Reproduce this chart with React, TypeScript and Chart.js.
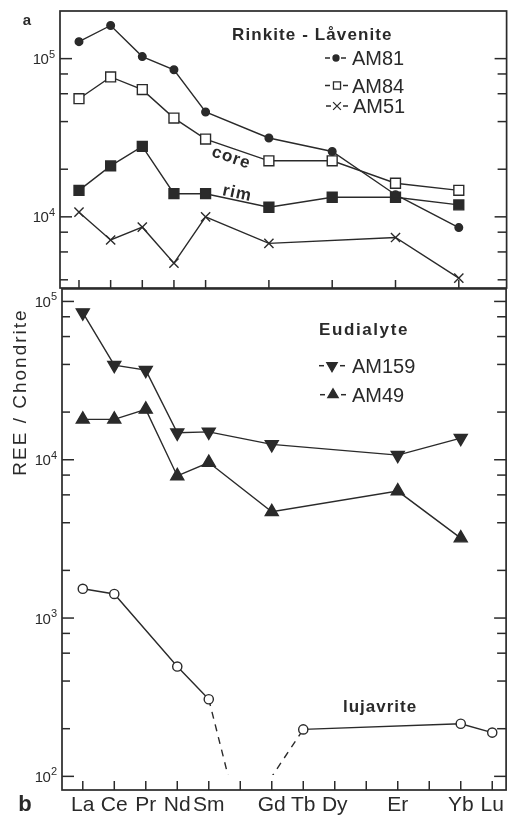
import React, { useEffect, useRef } from 'react';
import { Chart, registerables } from 'chart.js';
import { drawPoint } from 'chart.js/helpers';

Chart.register(...registerables);

// ---------- data ----------
const elements = ['La', 'Ce', 'Pr', 'Nd', 'Sm', 'Eu', 'Gd', 'Tb', 'Dy', 'Ho', 'Er', 'Tm', 'Yb', 'Lu'];
const tickLabels = ['La', 'Ce', 'Pr', 'Nd', 'Sm', '', 'Gd', 'Tb', 'Dy', '', 'Er', '', 'Yb', 'Lu'];
const yTickMultiples = [1, 2, 4, 6, 8];

// (a) Rinkite - Låvenite
const am81 = [128000, 162000, 103000, 85000, 46000, null, 31500, null, 25900, null, 13800, null, 8550, null];
const am84Core = [55800, 76600, 63700, 42100, 31000, null, 22600, null, 22600, null, 16300, null, 14700, null];
const am84Rim = [14700, 21000, 27900, 14000, 14000, null, 11500, null, 13300, null, 13300, null, 11900, null];
const am51 = [10700, 7140, 8600, 5100, 10000, null, 6800, null, null, null, 7400, null, 4100, null];

// (b) Eudialyte + lujavrite
const am159 = [85000, 39600, 36800, 14800, 15000, null, 12500, null, null, null, 10700, null, 13700, null];
const am49 = [18000, 18000, 20800, 7900, 9600, null, 4690, null, null, null, 6340, null, 3200, null];
const lujavrite = [1530, 1420, null, 494, 307, null, null, 198, null, null, null, null, 215, 189];
const lujavriteEuAnomaly = 50; // Eu, below the plotted range (dashed)

// ---------- helpers ----------
const INK = '#2a2a2a';
const SANS = '"Liberation Sans", Arial, sans-serif';
const EU = elements.indexOf('Eu');

function series(values: (number | null)[]) {
  return values
    .map((v, i) => (v == null ? null : { x: i, y: v }))
    .filter((p) => p !== null) as { x: number; y: number }[];
}

function yTickValues(min: number, max: number) {
  const out: { v: number; major: boolean }[] = [];
  for (let e = Math.floor(Math.log10(min)); e <= Math.ceil(Math.log10(max)); e++) {
    for (const m of yTickMultiples) {
      const v = m * Math.pow(10, e);
      if (v >= min * 1.0001 && v <= max / 1.0001) out.push({ v, major: m === 1 });
    }
  }
  return out;
}

function text(
  ctx: CanvasRenderingContext2D,
  str: string,
  x: number,
  y: number,
  font: string,
  align: CanvasTextAlign = 'left',
  baseline: CanvasTextBaseline = 'alphabetic',
  rotation = 0,
  spacing = 0
) {
  ctx.save();
  ctx.translate(x, y);
  ctx.rotate(rotation);
  ctx.font = font;
  (ctx as any).letterSpacing = spacing + 'px';
  ctx.textAlign = align;
  ctx.textBaseline = baseline;
  ctx.fillStyle = INK;
  ctx.fillText(str, 0, 0);
  ctx.restore();
}

function seg(ctx: CanvasRenderingContext2D, x1: number, y1: number, x2: number, y2: number) {
  ctx.beginPath();
  ctx.moveTo(x1, y1);
  ctx.lineTo(x2, y2);
  ctx.stroke();
}

const framePlugin = {
  id: 'frame',
  afterDraw(chart: any, _a: any, opts: any) {
    const { ctx, chartArea: a, scales } = chart;
    ctx.save();
    ctx.strokeStyle = INK;
    ctx.lineWidth = 1.7;
    ctx.strokeRect(a.left, a.top, a.right - a.left, a.bottom - a.top);
    ctx.lineWidth = 1.5;
    const ys = scales.y;
    for (const t of yTickValues(ys.min, ys.max)) {
      const y = ys.getPixelForValue(t.v);
      const len = t.major ? 12 : 8;
      seg(ctx, a.left, y, a.left + len, y);
      seg(ctx, a.right, y, a.right - (t.major ? 12 : 9), y);
      if (t.major) {
        const exp = String(Math.round(Math.log10(t.v)));
        ctx.font = `11px ${SANS}`;
        const we = ctx.measureText(exp).width;
        const ex = a.left - 5 - we;
        text(ctx, exp, ex, y - 1, `11px ${SANS}`, 'left', 'alphabetic');
        text(ctx, '10', ex - 0.5, y + 5.5, `15px ${SANS}`, 'right', 'alphabetic', 0, -0.5);
      }
    }
    const xs = scales.x;
    for (const i of opts.xTicks as number[]) {
      const x = xs.getPixelForValue(i);
      seg(ctx, x, a.bottom, x, a.bottom - opts.xTickLen);
    }
    ctx.restore();
  },
};

function legendEntry(
  ctx: CanvasRenderingContext2D,
  ds: any,
  label: string,
  lx: number,
  mx: number,
  rx: number,
  tx: number,
  baseline: number,
  r: number
) {
  const my = baseline - 7;
  ctx.save();
  ctx.strokeStyle = INK;
  ctx.lineWidth = 1.5;
  seg(ctx, lx, my, lx + 5, my);
  seg(ctx, rx, my, rx + 5, my);
  ctx.fillStyle = ds.pointBackgroundColor;
  ctx.strokeStyle = INK;
  ctx.lineWidth = 1.3;
  drawPoint(ctx, { pointStyle: ds.pointStyle, rotation: ds.pointRotation || 0, radius: r, borderWidth: 1.3 } as any, mx, my);
  ctx.restore();
  text(ctx, label, tx, baseline, `20px ${SANS}`);
}

function lineDs(label: string, values: (number | null)[], style: any) {
  return {
    label,
    data: series(values),
    borderColor: INK,
    borderWidth: 1.4,
    pointBorderColor: INK,
    pointBorderWidth: 1.4,
    fill: false,
    tension: 0,
    ...style,
  };
}

// ---------- top panel ----------
function topConfig(): any {
  const dsAM81 = lineDs('AM81', am81, { pointStyle: 'circle', pointRadius: 3.8, pointBackgroundColor: INK });
  const dsCore = lineDs('AM84 core', am84Core, { pointStyle: 'rect', pointRadius: 7, pointBackgroundColor: '#fff' });
  const dsRim = lineDs('AM84 rim', am84Rim, { pointStyle: 'rect', pointRadius: 7, pointBackgroundColor: INK });
  const dsAM51 = lineDs('AM51', am51, { pointStyle: 'crossRot', pointRadius: 6.5, pointBackgroundColor: INK });
  const xTicks = elements.map((_, i) => i).filter((i) => [am81, am84Core, am84Rim, am51].some((s) => s[i] != null));

  const labelsPlugin = {
    id: 'labelsTop',
    afterDraw(chart: any) {
      const { ctx, scales } = chart;
      text(ctx, 'a', 27, 25, `bold 15px ${SANS}`, 'center');
      text(ctx, 'Rinkite - Låvenite', 232, 40, `bold 17px ${SANS}`, 'left', 'alphabetic', 0, 1.1);
      legendEntry(ctx, dsAM81, 'AM81', 325, 336, 341, 352, 65, 3);
      legendEntry(ctx, dsCore, 'AM84', 325, 337, 343, 352, 92.5, 5);
      legendEntry(ctx, dsAM51, 'AM51', 326, 337, 343, 353, 113, 5.5);
      // "core" / "rim" along their segments Sm -> Gd
      const sm = elements.indexOf('Sm');
      const gd = elements.indexOf('Gd');
      const px = (i: number, v: number) => ({ x: scales.x.getPixelForValue(i), y: scales.y.getPixelForValue(v) });
      const c0 = px(sm, am84Core[sm] as number), c1 = px(gd, am84Core[gd] as number);
      const ca = Math.atan2(c1.y - c0.y, c1.x - c0.x);
      text(ctx, 'core', (c0.x + c1.x) / 2 - 6, (c0.y + c1.y) / 2 + 8, `bold 17px ${SANS}`, 'center', 'middle', ca, 1);
      const r0 = px(sm, am84Rim[sm] as number), r1 = px(gd, am84Rim[gd] as number);
      const ra = Math.atan2(r1.y - r0.y, r1.x - r0.x);
      text(ctx, 'rim', (r0.x + r1.x) / 2 - 0, (r0.y + r1.y) / 2 - 7, `bold 17px ${SANS}`, 'center', 'middle', ra, 1);
    },
  };

  return {
    type: 'line',
    data: { datasets: [dsAM81, dsCore, dsRim, dsAM51] },
    options: {
      animation: false,
      responsive: false,
      layout: { padding: { left: 60, right: 7, top: 11, bottom: 12 } },
      scales: {
        x: { type: 'linear', min: -0.6, max: 13.51, display: false },
        y: { type: 'logarithmic', min: 3550, max: 200000, display: false },
      },
      plugins: { legend: { display: false }, tooltip: { enabled: false }, frame: { xTicks, xTickLen: 8 } },
    },
    plugins: [framePlugin, labelsPlugin],
  };
}

// ---------- bottom panel ----------
function bottomConfig(): any {
  const dsAM159 = lineDs('AM 159', am159, { pointStyle: 'triangle', pointRotation: 180, pointRadius: 7.5, pointBackgroundColor: INK });
  const dsAM49 = lineDs('AM 49', am49, { pointStyle: 'triangle', pointRadius: 7.5, pointBackgroundColor: INK });
  const lujValues = lujavrite.slice();
  lujValues[EU] = lujavriteEuAnomaly;
  const dsLuj = lineDs('lujavrite', lujValues, {
    pointStyle: 'circle',
    pointRadius: (c: any) => (c.raw && c.raw.x === EU ? 0 : 4.6),
    pointBackgroundColor: '#fff',
    clip: { left: 8, right: 8, top: 8, bottom: -15 },
    segment: {
      borderDash: (c: any) => (c.p0.parsed.x === EU || c.p1.parsed.x === EU ? [7, 6] : undefined),
    },
  });

  const labelsPlugin = {
    id: 'labelsBottom',
    afterDraw(chart: any) {
      const { ctx } = chart;
      text(ctx, 'Eudialyte', 319, 55, `bold 17px ${SANS}`, 'left', 'alphabetic', 0, 1.6);
      legendEntry(ctx, dsAM159, 'AM159', 319, 332, 340, 352, 92.7, 6);
      legendEntry(ctx, dsAM49, 'AM49', 320, 333, 341, 352, 121.7, 6);
      text(ctx, 'lujavrite', 380, 427, `bold 17px ${SANS}`, 'center', 'middle', 0, 1);
      text(ctx, 'b', 25, 531, `bold 22px ${SANS}`, 'center');
      text(ctx, 'REE / Chondrite', 21, 112, `19px ${SANS}`, 'center', 'middle', -Math.PI / 2, 2);
    },
  };

  return {
    type: 'line',
    data: { datasets: [dsAM159, dsAM49, dsLuj] },
    options: {
      animation: false,
      responsive: false,
      layout: { padding: { left: 62, right: 4, top: 8, bottom: 0 } },
      scales: {
        x: {
          type: 'linear',
          min: -0.66,
          max: 13.44,
          afterBuildTicks: (s: any) => {
            s.ticks = elements.map((_, i) => ({ value: i }));
          },
          afterFit: (s: any) => {
            s.height = 31;
          },
          grid: { display: false, drawTicks: false },
          border: { display: false },
          ticks: {
            autoSkip: false,
            maxRotation: 0,
            minRotation: 0,
            padding: 3,
            color: INK,
            font: { family: SANS, size: 21 },
            callback: (v: number) => tickLabels[v] ?? '',
          },
        },
        y: { type: 'logarithmic', min: 82, max: 120000, display: false },
      },
      plugins: {
        legend: { display: false },
        tooltip: { enabled: false },
        frame: { xTicks: elements.map((_, i) => i), xTickLen: 9 },
      },
    },
    plugins: [framePlugin, labelsPlugin],
  };
}

export default function App() {
  const topRef = useRef<HTMLCanvasElement>(null);
  const botRef = useRef<HTMLCanvasElement>(null);
  useEffect(() => {
    const top = new Chart(topRef.current as HTMLCanvasElement, topConfig());
    const bot = new Chart(botRef.current as HTMLCanvasElement, bottomConfig());
    return () => {
      top.destroy();
      bot.destroy();
    };
  }, []);
  return (
    <div style={{ position: 'absolute', left: 0, top: 0, width: 515, height: 821, background: '#fff' }}>
      <canvas ref={topRef} width={515} height={300} style={{ position: 'absolute', left: 0, top: 0 }} />
      <canvas ref={botRef} width={515} height={541} style={{ position: 'absolute', left: 0, top: 280 }} />
    </div>
  );
}
